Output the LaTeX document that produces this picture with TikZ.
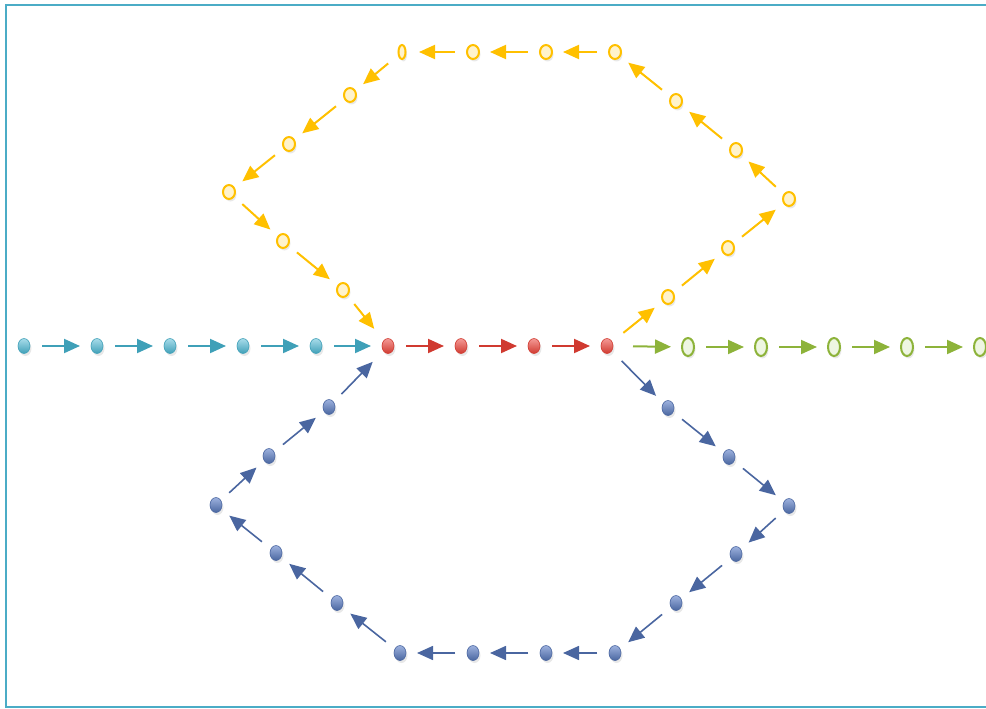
\documentclass[tikz,border=0pt]{standalone}
\usetikzlibrary{arrows.meta,shapes.geometric,shadows}
\definecolor{tealc}{HTML}{3FA0B8}
\definecolor{tealL}{HTML}{A8DCEA}
\definecolor{redc}{HTML}{D03A30}
\definecolor{redL}{HTML}{F49A96}
\definecolor{greenc}{HTML}{8DB33A}
\definecolor{greenL}{HTML}{EEF6E2}
\definecolor{yelc}{HTML}{FFC000}
\definecolor{yelL}{HTML}{FFF3CC}
\definecolor{bluec}{HTML}{4A66A0}
\definecolor{blueL}{HTML}{9DB2DE}
\definecolor{framec}{HTML}{4BACC6}
\tikzset{
  dot/.style={ellipse, inner sep=0pt, minimum width=12pt, minimum height=15pt,
    drop shadow={opacity=0.18, shadow xshift=1.5pt, shadow yshift=-2.5pt}},
  tdot/.style={dot, draw=tealc, line width=0.6pt, top color=tealL, bottom color=tealc},
  rdot/.style={dot, draw=redc, line width=0.6pt, top color=redL, bottom color=redc},
  gdot/.style={dot, draw=greenc, line width=2pt, fill=greenL, minimum width=12pt, minimum height=18pt},
  ydot/.style={dot, draw=yelc, line width=2pt, fill=yelL, minimum width=12pt, minimum height=14pt},
  bdot/.style={dot, draw=bluec, line width=0.6pt, top color=blueL, bottom color=bluec},
  arr/.style={line width=2pt, shorten <=18pt, shorten >=17pt,
    -{Triangle[length=16pt,width=14pt]}},
  tarr/.style={arr, draw=tealc, fill=tealc},
  rarr/.style={arr, draw=redc, fill=redc},
  garr/.style={arr, draw=greenc, fill=greenc},
  yarr/.style={arr, draw=yelc, fill=yelc},
  barr/.style={arr, line width=1.6pt, draw=bluec, fill=bluec},
}
\begin{document}
\begin{tikzpicture}[x=1pt,y=-1pt]
\useasboundingbox (0,0) rectangle (986,709);
% frame
\draw[framec, line width=2pt] (990,5) -- (6,5) -- (6,707) -- (990,707);
% teal nodes
\foreach \i/\x in {1/24,2/97,3/170,4/243,5/316}
  \node[tdot] (t\i) at (\x,346) {};
% red nodes
\foreach \i/\x in {1/388,2/461,3/534,4/607}
  \node[rdot] (r\i) at (\x,346) {};
% green nodes
\foreach \i/\x in {1/688,2/761,3/834,4/907,5/980}
  \node[gdot] (g\i) at (\x,347) {};
% yellow nodes
\foreach \i/\x/\y in {1/668/297,2/728/248,3/789/199,4/736/150,5/676/101,6/615/52,7/546/52,8/473/52,10/350/95,11/289/144,12/229/192,13/283/241,14/343/290}
  \node[ydot] (y\i) at (\x,\y) {};
\node[ydot, minimum width=7pt] (y9) at (402,52) {};
% blue nodes
\foreach \i/\x/\y in {1/668/408,2/729/457,3/789/506,4/736/554,5/676/603,6/615/653,7/546/653,8/473/653,9/400/653,10/337/603,11/276/553,12/216/505,13/269/456,14/329/407}
  \node[bdot] (b\i) at (\x,\y) {};
% teal arrows
\draw[tarr] (t1.center) -- (t2.center);
\draw[tarr] (t2.center) -- (t3.center);
\draw[tarr] (t3.center) -- (t4.center);
\draw[tarr] (t4.center) -- (t5.center);
\draw[tarr] (t5.center) -- (r1.center);
% red arrows
\draw[rarr] (r1.center) -- (r2.center);
\draw[rarr] (r2.center) -- (r3.center);
\draw[rarr] (r3.center) -- (r4.center);
% green arrows
\draw[garr, shorten <=26pt] (r4.center) -- (g1.center);
\draw[garr] (g1.center) -- (g2.center);
\draw[garr] (g2.center) -- (g3.center);
\draw[garr] (g3.center) -- (g4.center);
\draw[garr] (g4.center) -- (g5.center);
% yellow loop
\draw[yarr, shorten <=21pt] (r4.center) -- (y1.center);
\draw[yarr] (y1.center) -- (y2.center);
\draw[yarr] (y2.center) -- (y3.center);
\draw[yarr] (y3.center) -- (y4.center);
\draw[yarr] (y4.center) -- (y5.center);
\draw[yarr] (y5.center) -- (y6.center);
\draw[yarr] (y6.center) -- (y7.center);
\draw[yarr] (y7.center) -- (y8.center);
\draw[yarr] (y8.center) -- (y9.center);
\draw[yarr] (y9.center) -- (y10.center);
\draw[yarr] (y10.center) -- (y11.center);
\draw[yarr] (y11.center) -- (y12.center);
\draw[yarr] (y12.center) -- (y13.center);
\draw[yarr] (y13.center) -- (y14.center);
\draw[yarr, shorten >=22pt] (y14.center) -- (r1.center);
% blue loop
\draw[barr, shorten <=21pt] (r4.center) -- (b1.center);
\draw[barr] (b1.center) -- (b2.center);
\draw[barr] (b2.center) -- (b3.center);
\draw[barr] (b3.center) -- (b4.center);
\draw[barr] (b4.center) -- (b5.center);
\draw[barr] (b5.center) -- (b6.center);
\draw[barr] (b6.center) -- (b7.center);
\draw[barr] (b7.center) -- (b8.center);
\draw[barr] (b8.center) -- (b9.center);
\draw[barr] (b9.center) -- (b10.center);
\draw[barr] (b10.center) -- (b11.center);
\draw[barr] (b11.center) -- (b12.center);
\draw[barr] (b12.center) -- (b13.center);
\draw[barr] (b13.center) -- (b14.center);
\draw[barr, shorten >=22pt] (b14.center) -- (r1.center);
\end{tikzpicture}
\end{document}
